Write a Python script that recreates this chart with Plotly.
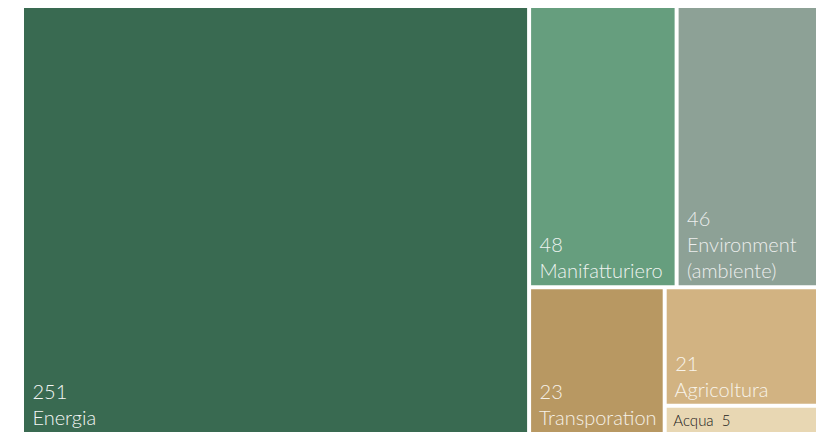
import plotly.graph_objects as go

# Leaf categories and values
categories = ["Energia", "Manifatturiero", "Environment<br>(ambiente)",
              "Transporation", "Agricoltura", "Acqua"]
values = [251, 48, 46, 23, 21, 5]
leaf_groups = ["", "alto", "alto", "basso", "piccolo", "piccolo"]
leaf_colors = ["#396a51", "#669e7e", "#8da196", "#b89862", "#d2b382", "#e8d7b3"]
leaf_text_colors = ["#f4f6f5", "#eef3f0", "#eceeed", "#f6f1e8", "#f8f3ea", "#1a1a1a"]

# Structural (unlabelled) grouping used for the slice/dice arrangement
group_ids = ["resto", "alto", "basso", "piccolo"]
group_parents = ["", "resto", "resto", "basso"]

ids, labels, parents, vals = [], [], [], []
colors, texts, text_colors, text_sizes = [], [], [], []

order = [("leaf", 0), ("group", 0), ("group", 1), ("leaf", 1), ("leaf", 2),
         ("group", 2), ("leaf", 3), ("group", 3), ("leaf", 4), ("leaf", 5)]
for kind, i in order:
    if kind == "leaf":
        name = categories[i]
        ids.append(name)
        labels.append(name)
        parents.append(leaf_groups[i])
        vals.append(values[i])
        colors.append(leaf_colors[i])
        text_colors.append(leaf_text_colors[i])
        padded = name.replace("<br>", "<br>&nbsp;")
        if values[i] < 10:
            texts.append("&nbsp;" + padded + "&nbsp;&nbsp;" + str(values[i]))
            text_sizes.append(15)
        else:
            texts.append("&nbsp;" + str(values[i]) + "<br>&nbsp;" + padded)
            text_sizes.append(20)
    else:
        ids.append(group_ids[i])
        labels.append("")
        parents.append(group_parents[i])
        vals.append(0)
        colors.append("#ffffff")
        text_colors.append("#ffffff")
        texts.append("")
        text_sizes.append(12)

fig = go.Figure(go.Treemap(
    ids=ids,
    labels=labels,
    parents=parents,
    values=vals,
    branchvalues="remainder",
    sort=False,
    text=texts,
    texttemplate="%{text}",
    textposition="bottom left",
    textfont=dict(family="Lato", size=text_sizes, color=text_colors, weight=300),
    marker=dict(colors=colors, line=dict(width=0),
                pad=dict(t=0, l=0, r=0, b=0)),
    tiling=dict(packing="slice-dice", pad=4),
    pathbar=dict(visible=False),
    hoverinfo="skip",
))

fig.update_layout(
    width=816, height=432,
    margin=dict(l=24, r=0, t=8, b=0),
    paper_bgcolor="white",
    showlegend=False,
)

fig.write_html("out.html")
